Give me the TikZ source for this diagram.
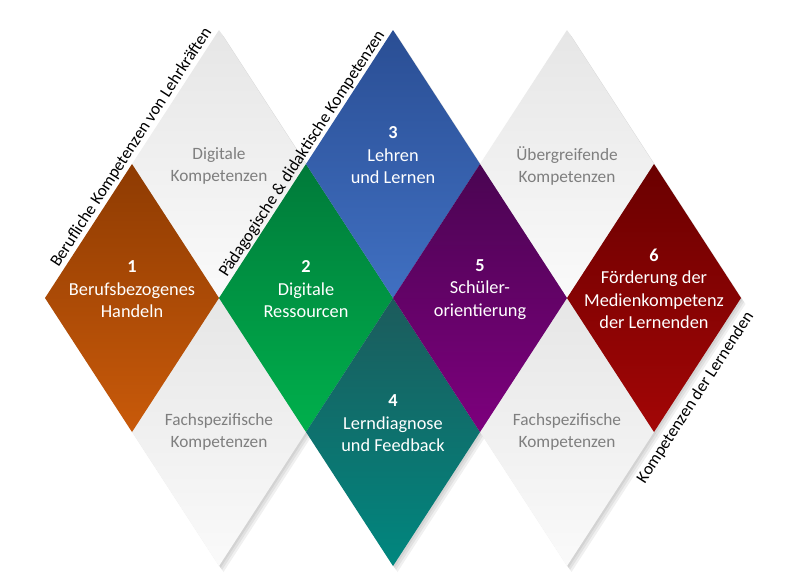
\documentclass[tikz,border=0pt]{standalone}
\usepackage{fontspec}
\setmainfont{Carlito}
\definecolor{orA}{HTML}{8E3B02}
\definecolor{orB}{HTML}{C95A0A}
\definecolor{grA}{HTML}{007A3A}
\definecolor{grB}{HTML}{00B04C}
\definecolor{blA}{HTML}{2A4E94}
\definecolor{blB}{HTML}{4070C2}
\definecolor{tlA}{HTML}{1C5B5C}
\definecolor{tlB}{HTML}{00877F}
\definecolor{puA}{HTML}{4A0552}
\definecolor{puB}{HTML}{7D007D}
\definecolor{rdA}{HTML}{6A0000}
\definecolor{rdB}{HTML}{A30606}
\definecolor{gyA}{HTML}{E6E6E6}
\definecolor{gyB}{HTML}{FAFAFA}
\definecolor{gytext}{HTML}{7F7F7F}
\newcommand\rh[2]{(#1-87,#2) -- (#1,#2-134) -- (#1+87,#2) -- (#1,#2+134) -- cycle}
\tikzset{
  dia/.style={shading=axis, shading angle=45},
  shad/.style={fill=black, opacity=0.06},
  maintext/.style={text=white, align=center, font=\fontsize{18.3}{22.5}\selectfont},
  greytext/.style={text=gytext, align=center, font=\fontsize{17.3}{21.5}\selectfont},
  sidetext/.style={text=black, font=\fontsize{17}{20}\selectfont, rotate=57, inner sep=1pt},
}
\begin{document}
\begin{tikzpicture}[x=1pt,y=-1pt]
\useasboundingbox[fill=white] (0,0) rectangle (791,582);
% centres
\coordinate (c1) at (132,298);
\coordinate (g1c) at (219,164);
\coordinate (g3c) at (219,432);
\coordinate (c2) at (306,298);
\coordinate (c3) at (393,164);
\coordinate (c4) at (393,432);
\coordinate (c5) at (480,298);
\coordinate (g2c) at (567,164);
\coordinate (g4c) at (567,432);
\coordinate (c6) at (654,298);
% shadows
\foreach \dx/\dy in {1.5/2,3/4,4.5/6}{
  \begin{scope}[shift={(\dx,\dy)}]
  \fill[shad] \rh{132}{298}; \fill[shad] \rh{219}{164}; \fill[shad] \rh{219}{432};
  \fill[shad] \rh{306}{298}; \fill[shad] \rh{393}{164}; \fill[shad] \rh{393}{432};
  \fill[shad] \rh{480}{298}; \fill[shad] \rh{567}{164}; \fill[shad] \rh{567}{432};
  \fill[shad] \rh{654}{298};
  \end{scope}}
% diamonds
\shade[dia, top color=gyA, bottom color=gyB] \rh{219}{164};
\shade[dia, top color=gyA, bottom color=gyB] \rh{219}{432};
\shade[dia, top color=gyA, bottom color=gyB] \rh{567}{164};
\shade[dia, top color=gyA, bottom color=gyB] \rh{567}{432};
\shade[dia, top color=orA, bottom color=orB] \rh{132}{298};
\shade[dia, top color=grA, bottom color=grB] \rh{306}{298};
\shade[dia, top color=blA, bottom color=blB] \rh{393}{164};
\shade[dia, top color=tlA, bottom color=tlB] \rh{393}{432};
\shade[dia, top color=puA, bottom color=puB] \rh{480}{298};
\shade[dia, top color=rdA, bottom color=rdB] \rh{654}{298};
% texts
\node[maintext] (t1) at (132,289.5) {\textbf{1}\\Berufsbezogenes\\Handeln};
\node[maintext] (t2) at (306,289.5) {\textbf{2}\\Digitale\\Ressourcen};
\node[maintext] (t3) at (393,155.5) {\textbf{3}\\Lehren\\und Lernen};
\node[maintext] (t4) at (393,423.5) {\textbf{4}\\Lerndiagnose\\und Feedback};
\node[maintext] (t5) at (480,289.5) {\textbf{5}\\Schüler-\\orientierung};
\node[maintext] (t6) at (654,289) {\textbf{6}\\Förderung der\\Medienkompetenz\\der Lernenden};
\node[greytext] (g1) at (219,166) {Digitale\\Kompetenzen};
\node[greytext] (g2) at (567,166) {Übergreifende\\Kompetenzen};
\node[greytext] (g3) at (219,432) {Fachspezifische\\Kompetenzen};
\node[greytext] (g4) at (567,432) {Fachspezifische\\Kompetenzen};
% side labels
\node[sidetext, anchor=south] (s1) at (138.5,152) {Berufliche Kompetenzen von Lehrkräften};
\node[sidetext, anchor=south] (s2) at (309.5,158.6) {Pädagogische \& didaktische Kompetenzen};
\node[sidetext, anchor=north] (s3) at (688.5,393) {Kompetenzen der Lernenden};
\end{tikzpicture}
\end{document}
